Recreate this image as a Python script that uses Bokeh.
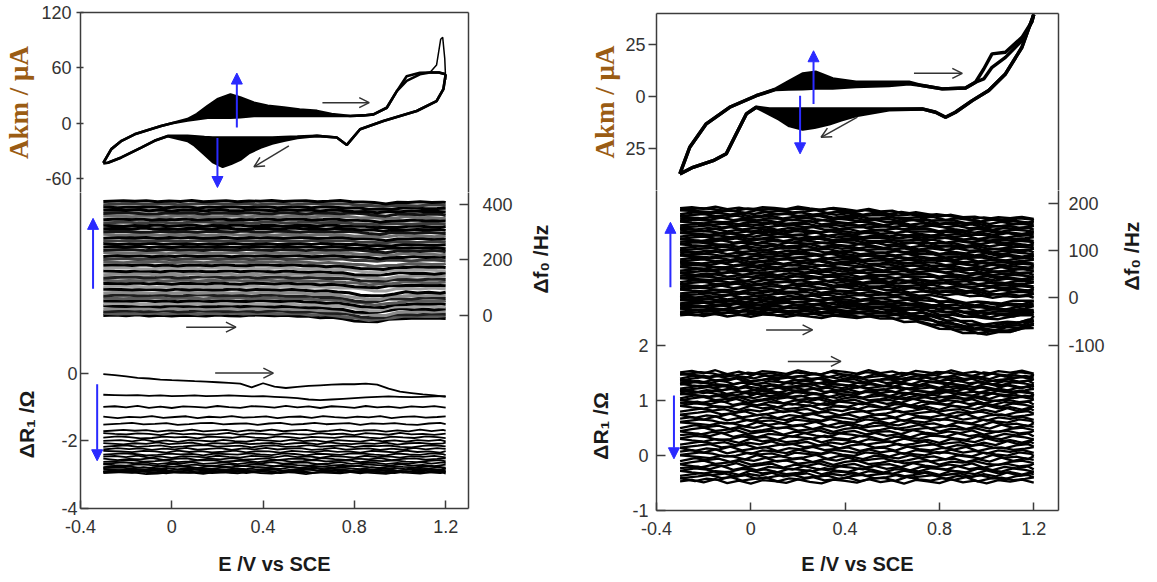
import numpy as np
from bokeh.plotting import figure
from bokeh.layouts import row, column
from bokeh.models import (Range1d, LinearAxis, FixedTicker, BasicTickFormatter,
                          Arrow, NormalHead, OpenHead)
from bokeh.embed import file_html
from bokeh.resources import INLINE

# ---------------- data ----------------
E_ticks = [-0.4, 0.0, 0.4, 0.8, 1.2]
cvL_ticks = [-60, 0, 60, 120]
cvR_ticks = [-25, 0, 25]
f0L_ticks = [0, 200, 400]
f0R_ticks = [-100, 0, 100, 200]
rL_ticks = [-4, -2, 0]
rR_ticks = [-1, 0, 1, 2]

# Left CV (uA): forward sweep, first and last cycle
cvL_up_E = [-0.30, -0.265, -0.22, -0.163, -0.10, -0.047, 0.0, 0.069, 0.11, 0.157, 0.20, 0.257, 0.30, 0.36,
            0.42, 0.491, 0.56, 0.636, 0.70, 0.782, 0.84, 0.884, 0.942, 0.986, 1.029, 1.087, 1.131, 1.17, 1.20]
cvL_up_last = [-43, -28, -19, -12, -7, -3, 0, 4.5, 10, 18.7, 26, 31.3, 28, 22.3, 19, 17, 15, 13.4, 10, 7.8,
               8.5, 9.6, 16.8, 34.8, 51, 54.8, 55, 55, 53]
cvL_up_first = [-43, -28, -19, -12, -7, -3, 0, 3, 4.5, 6, 6, 6, 6.5, 7.8, 7.8, 7.8, 7.8, 7.8, 7.8, 7.8,
                8.5, 9.6, 16.8, 34.8, 46, 53, 55, 55, 53]
cvL_spike_E = [1.131, 1.16, 1.178, 1.187, 1.196, 1.20]
cvL_spike_I = [55, 63, 91, 93, 70, 47]
# Left CV: reverse sweep
cvL_dn_E = [1.20, 1.19, 1.16, 1.073, 0.927, 0.825, 0.767, 0.723, 0.636, 0.55, 0.491, 0.44, 0.389, 0.34,
            0.303, 0.26, 0.223, 0.18, 0.143, 0.10, 0.069, -0.018, -0.076, -0.134, -0.221, -0.28, -0.30]
cvL_dn_first = [53, 37, 24, 13.3, 2.5, -6.5, -23.5, -15.5, -13.7, -14.5, -15, -15.5, -15.5, -15.5, -15.5,
                -15.5, -15.5, -15.5, -15, -14, -13.7, -13.7, -19, -26.3, -37, -42.7, -43.3]
cvL_dn_last = [53, 37, 24, 13.3, 2.5, -6.5, -23.5, -15.5, -13.7, -16, -19, -22, -26.3, -32, -39, -44,
               -47.2, -42, -33.5, -24, -19.2, -14, -19, -26.3, -37, -42.7, -43.3]

# Right CV (uA)
cvR_up_E = [-0.301, -0.259, -0.189, -0.09, 0.023, 0.107, 0.16, 0.22, 0.277, 0.347, 0.446, 0.586, 0.671,
            0.727, 0.812, 0.911, 0.953, 0.988, 1.023, 1.08, 1.15, 1.192, 1.20]
cvR_up_last = [-37.5, -24.6, -13.3, -5.3, 0.3, 3.6, 7, 10.8, 11.6, 8.4, 6.8, 6.8, 6.8, 5.2, 3.6, 4, 6.8,
               8.4, 14, 18.8, 26.9, 36, 39.5]
cvR_up_first = [-37.5, -24.6, -13.3, -5.3, 0.3, 3.3, 3.5, 3.6, 4, 4, 4.7, 5.2, 6.0, 5.2, 3.6, 4, 6.8,
                13.2, 20.5, 21.3, 28.5, 36, 39.5]
cvR_dn_E = [1.20, 1.15, 1.08, 1.009, 0.939, 0.868, 0.826, 0.784, 0.727, 0.586, 0.446, 0.38, 0.333, 0.27,
            0.22, 0.164, 0.12, 0.079, 0.023, -0.019, -0.062, -0.104, -0.16, -0.245, -0.301]
cvR_dn_first = [39.5, 23.7, 10.8, 2.8, -2.1, -7.7, -10.1, -7.7, -6.1, -6.1, -6.1, -6.1, -6.1, -6.1, -6.1,
                -6.1, -6.1, -6.1, -5.3, -8.5, -18.2, -27.8, -31.1, -34.3, -37.5]
cvR_dn_last = [39.5, 23.7, 10.8, 2.8, -2.1, -7.7, -10.1, -7.7, -6.1, -6.5, -9.3, -11.5, -13.3, -15, -15.8,
               -14.2, -11, -8.5, -5.3, -8.5, -18.2, -27.8, -31.1, -34.3, -37.5]

# Potential grid of the stacked traces
E_grid = [-0.30, -0.25, -0.20, -0.15, -0.10, -0.05, 0.00, 0.05, 0.10, 0.15, 0.20, 0.25, 0.30, 0.35, 0.40,
          0.45, 0.50, 0.55, 0.60, 0.65, 0.70, 0.75, 0.80, 0.85, 0.90, 0.95, 1.00, 1.05, 1.10, 1.15, 1.20]
# wiggle patterns of the noisy traces (relative units)
wig_a = [0.0, 0.6, -0.4, 0.9, -0.7, 0.3, -0.9, 0.5, 0.1, -0.6, 0.8, -0.2, -0.8, 0.7, 0.2, -0.5, 0.9, -0.3,
         0.4, -0.9, 0.6, 0.0, -0.7, 0.8, -0.4, 0.3, -0.8, 0.5, -0.1, 0.7, -0.5]
wig_b = [0.4, -0.8, 0.2, -0.3, 0.9, -0.6, 0.1, 0.7, -0.9, 0.3, -0.2, 0.8, -0.5, 0.0, 0.6, -0.8, 0.2, 0.5,
         -0.7, 0.9, -0.1, -0.6, 0.4, -0.3, 0.8, -0.9, 0.2, 0.6, -0.4, 0.1, 0.7]
wig_c = [-0.6, 0.2, 0.8, -0.5, 0.0, 0.7, -0.8, -0.2, 0.6, 0.9, -0.4, 0.1, 0.5, -0.9, 0.3, 0.8, -0.6, -0.1,
         0.9, -0.3, 0.2, 0.7, -0.8, 0.4, 0.0, 0.6, -0.5, -0.9, 0.3, 0.8, -0.2]

# Left delta f0 (Hz): start value of each cycle and the bend of the traces
f0L_start = [0, 7, 15, 24, 33, 42, 52, 62, 72, 82, 93, 104, 115, 126, 137, 148, 159, 170, 181, 192, 203,
             214, 225, 236, 247, 258, 269, 280, 291, 302, 313, 324, 335, 346, 357, 368, 379, 390, 401, 412]
f0L_bend_hi = [0, 0, 0, 0, 0, 0, 0, 0, 0, 0, 0, 0, 0, 0, 0, 0, 0, 0, 0, 0, 0, -1, -3, -6, -8, -5, -3, -4,
               -4, -5, -5]
f0L_bend_mid = [0, 0, 0, 0, 0, 0, 0, 0, 0, 0, 0, 0, 0, 0, 0, 0, 0, -1, -2, -3, -4, -6, -10, -15, -14, -9,
                -6, -7, -7, -8, -7]
f0L_bend_lo = [0, 0, 0, 0, 0, 0, 0, 0, 0, 0, 0, 0, 0, 0, 0, 0, -1, -2, -4, -6, -8, -12, -18, -24, -22, -14,
               -10, -11, -10, -11, -10]
# Right delta f0 (Hz)
f0R_start = [-37, -34, -31, -28, -25, -22, -19, -16, -13, -10, -7, -4, -1, 3, 7, 11, 15, 19, 23, 27, 31,
             35, 39, 43, 47, 51, 55, 59, 63, 67, 71, 75, 79, 83, 87, 91, 95, 99, 103, 107, 111, 115, 119,
             123, 127, 131, 135, 139, 143, 147, 151, 155, 159, 163, 167, 171, 175, 179, 183, 187, 190]
f0R_bend_hi = [0, 0, 0, 0, 0, 0, 0, 0, 0, 0, 0, 0, -1, -2, -3, -4, -5, -6, -7, -9, -11, -13, -15, -17,
               -18, -19, -20, -21, -21, -21, -21]
f0R_bend_mid = [0, 0, 0, 0, 0, 0, 0, 0, 0, 0, -1, -1, -2, -3, -3, -4, -5, -6, -8, -10, -13, -16, -20, -24,
                -27, -29, -29, -29, -28, -26, -23]
f0R_bend_lo = [0, 0, 0, 0, 0, 0, 0, 0, 0, -1, -2, -2, -3, -3, -4, -4, -5, -6, -8, -11, -15, -20, -26, -32,
               -36, -38, -38, -37, -35, -30, -25]

# Left delta R1 (Ohm)
rL_first = [-0.03, -0.06, -0.10, -0.14, -0.16, -0.19, -0.21, -0.22, -0.24, -0.25, -0.27, -0.29, -0.31,
            -0.42, -0.30, -0.40, -0.44, -0.41, -0.38, -0.36, -0.34, -0.33, -0.33, -0.31, -0.34, -0.46,
            -0.55, -0.59, -0.63, -0.66, -0.70]
rL_second = [-0.64, -0.65, -0.66, -0.65, -0.67, -0.66, -0.68, -0.67, -0.66, -0.68, -0.67, -0.66, -0.67,
             -0.69, -0.68, -0.70, -0.72, -0.74, -0.78, -0.80, -0.78, -0.76, -0.74, -0.72, -0.70, -0.69,
             -0.70, -0.71, -0.70, -0.69, -0.68]
rL_levels = [-1.0, -1.3, -1.5, -1.7, -1.8, -1.9, -2.0, -2.08, -2.16, -2.24, -2.32, -2.40, -2.47, -2.54,
             -2.60, -2.66, -2.72, -2.77, -2.81, -2.85, -2.88, -2.91, -2.93, -2.95]
# Right delta R1 (Ohm)
rR_levels = [-0.47, -0.43, -0.39, -0.35, -0.31, -0.27, -0.23, -0.18, -0.13, -0.08, -0.03, 0.02, 0.07,
             0.12, 0.17, 0.22, 0.27, 0.32, 0.37, 0.42, 0.47, 0.52, 0.57, 0.62, 0.67, 0.72, 0.77, 0.82,
             0.87, 0.91, 0.95, 0.99, 1.03, 1.06, 1.09, 1.12, 1.15, 1.18, 1.21, 1.24, 1.27, 1.30, 1.33,
             1.36, 1.39, 1.42, 1.45, 1.48, 1.51]

# annotation arrows: (x_start, y_start, x_end, y_end)
arrL_cv_blue = [(0.285, -4.7, 0.285, 54.4), (0.20, -16, 0.20, -69.6)]
arrL_cv_black = [(0.66, 22.3, 0.865, 22.3), (0.513, -24.5, 0.36, -47.2)]
arrL_f0_blue = [(-0.345, 96, -0.345, 350)]
arrL_f0_black = [(0.063, -42, 0.281, -42)]
arrL_r_blue = [(-0.327, -0.33, -0.327, -2.59)]
arrL_r_black = [(0.19, 0.0, 0.445, 0.0)]
arrR_cv_blue = [(0.266, -3.7, 0.266, 22), (0.209, 0.3, 0.209, -27.8)]
arrR_cv_black = [(0.692, 11.1, 0.897, 11.1), (0.452, -10.1, 0.298, -19.8)]
arrR_f0_blue = [(-0.341, 22.5, -0.341, 160)]
arrR_f0_black = [(0.065, -68, 0.262, -68)]
arrR_r_blue = [(-0.326, 1.09, -0.326, -0.06)]
arrR_r_black = [(0.157, 1.71, 0.382, 1.71)]

# axis titles and the value at which each rotated title is anchored
title_cv = "Akm / μA"
title_f0 = "Δf₀ /Hz"
title_r = "ΔR₁ /Ω"
title_E = "E /V vs SCE"
f0L_title_at, rL_title_at = 79, -0.52
f0R_title_at, rR_title_at = 15.5, 1.15

# ---------------- styling ----------------
FRAME = "#3c3c3c"
TFONT = "Liberation Sans"
TSIZE = "18px"
TCOL = "#333333"
TITLE_COL = "#1a1a1a"
BLUE = "#2a2aff"
AKM_COL = "#9a5c14"

E = np.array(E_grid)
WIG = [np.array(wig_a), np.array(wig_b), np.array(wig_c)]
SHIFT = [0.0, 0.013, 0.026, 0.038]


def trace_x(k):
    xs = np.minimum(E + SHIFT[k % 4], E[-1])
    xs[0] = E[0]
    return xs


def wig(k):
    w = WIG[k % 3]
    return w[::-1] if (k // 3) % 2 else w


def hyphen_labels(ticks, fmt="{:g}"):
    return {t: fmt.format(t) for t in ticks if t < 0}


def make_fig(w, h, xr, yr, bl, br, bt, bb):
    f = figure(width=w, height=h, x_range=Range1d(*xr), y_range=Range1d(*yr),
               x_axis_type=None, y_axis_type=None, title=None,
               toolbar_location=None, output_backend="svg",
               min_border_left=bl, min_border_right=br, min_border_top=bt, min_border_bottom=bb)
    f.outline_line_color = None
    f.background_fill_color = "white"
    f.border_fill_color = "white"
    return f


def add_axis(f, side, ticks, tin=0, tout=0, standoff=6, prec=None, overrides=None,
             y_range_name=None, label=None, label_standoff=5,
             label_font=TFONT, label_size="21px", label_color=TITLE_COL):
    kw = {}
    if y_range_name:
        kw["y_range_name"] = y_range_name
    ax = LinearAxis(ticker=FixedTicker(ticks=ticks, minor_ticks=[]), **kw)
    if prec is not None:
        ax.formatter = BasicTickFormatter(precision=prec)
    ov = hyphen_labels(ticks, "{:.%df}" % prec if prec is not None else "{:g}")
    if overrides:
        ov.update(overrides)
    if ov:
        ax.major_label_overrides = ov
    ax.axis_line_color = FRAME
    ax.axis_line_width = 1.5
    ax.major_tick_line_color = FRAME
    ax.major_tick_line_width = 1.5
    ax.major_tick_in = tin
    ax.major_tick_out = tout
    ax.minor_tick_line_color = None
    ax.major_label_text_font = TFONT
    ax.major_label_text_font_size = TSIZE if ticks else "0px"
    ax.major_label_text_color = TCOL
    ax.major_label_standoff = standoff
    if label:
        ax.axis_label = label
        ax.axis_label_standoff = label_standoff
        ax.axis_label_text_font = label_font
        ax.axis_label_text_font_size = label_size
        ax.axis_label_text_font_style = "bold"
        ax.axis_label_text_color = label_color
    f.add_layout(ax, side)
    return ax


def title_axis(f, side, at, text, standoff, y_range_name=None):
    """An outer axis whose only (rotated) tick label is the axis title."""
    kw = {"y_range_name": y_range_name} if y_range_name else {}
    ax = LinearAxis(ticker=FixedTicker(ticks=[at], minor_ticks=[]), **kw)
    ax.major_label_overrides = {at: text}
    ax.major_label_orientation = np.pi / 2
    ax.axis_line_color = None
    ax.major_tick_line_color = None
    ax.minor_tick_line_color = None
    ax.major_tick_in = 0
    ax.major_tick_out = 0
    ax.major_label_standoff = standoff
    ax.major_label_text_font = TFONT
    ax.major_label_text_font_size = "21px"
    ax.major_label_text_font_style = "bold"
    ax.major_label_text_color = TITLE_COL
    f.add_layout(ax, side)
    return ax


def arrows(f, lst, blue, y_range_name="default"):
    for (x0, y0, x1, y1) in lst:
        if blue:
            head = NormalHead(size=11, fill_color=BLUE, line_color=BLUE)
            f.add_layout(Arrow(end=head, x_start=x0, y_start=y0, x_end=x1, y_end=y1,
                               line_color=BLUE, line_width=2, y_range_name=y_range_name))
        else:
            head = OpenHead(size=10, line_color="#333333", line_width=1.5)
            f.add_layout(Arrow(end=head, x_start=x0, y_start=y0, x_end=x1, y_end=y1,
                               line_color="#333333", line_width=1.5, y_range_name=y_range_name))


def cv_panel(f, upE, up1, upN, dnE, dn1, dnN, fill_up, fill_dn, lw):
    a, b = fill_up
    f.varea(x=upE[a:b], y1=up1[a:b], y2=upN[a:b], fill_color="black")
    c, d = fill_dn
    f.varea(x=dnE[c:d], y1=dn1[c:d], y2=dnN[c:d], fill_color="black")
    for ys in (up1, upN):
        f.line(upE, ys, line_color="black", line_width=lw)
    for ys in (dn1, dnN):
        f.line(dnE, ys, line_color="black", line_width=lw)


XR = (-0.4, 1.3)
XR_R = (-0.4, 1.305)

# ================= LEFT PANEL =================
L_W, L_BL, L_BR = 572, 78, 104
fL1 = make_fig(L_W, 192, XR, (-75, 120), L_BL, L_BR, 12, 0)
add_axis(fL1, "left", cvL_ticks, tin=3, tout=4, standoff=5, label=title_cv, label_standoff=4,
         label_font="Liberation Serif", label_size="27px", label_color=AKM_COL)
add_axis(fL1, "right", [])
add_axis(fL1, "above", [])
cv_panel(fL1, cvL_up_E, cvL_up_first, cvL_up_last, cvL_dn_E, cvL_dn_first, cvL_dn_last,
         (5, 23), (0, len(cvL_dn_E)), 2.6)
fL1.line(cvL_spike_E, cvL_spike_I, line_color="black", line_width=1.5)
arrows(fL1, arrL_cv_blue, True)
arrows(fL1, arrL_cv_black, False)

# lower left: delta R1 on the main range, delta f0 on an extra range
fL2 = make_fig(L_W, 390, XR, (-4, 5.335), L_BL, L_BR, 0, 74)
fL2.extra_y_ranges = {"f0": Range1d(-695.5, 443.2)}
add_axis(fL2, "left", rL_ticks, tin=8, standoff=3)
title_axis(fL2, "left", rL_title_at, title_r, 32)
add_axis(fL2, "right", f0L_ticks, tin=9, standoff=14, y_range_name="f0")
title_axis(fL2, "right", f0L_title_at, title_f0, 25, "f0")
add_axis(fL2, "below", E_ticks, tin=8, standoff=11, prec=1, label=title_E, label_standoff=17,
         label_size="20px")

xs, ys, cols = [], [], []
pal_hi = ["#000000", "#000000", "#3c3c3c", "#000000", "#6e6e6e", "#141414"]
pal_lo = ["#000000", "#5a5a5a", "#1e1e1e", "#8c8c8c", "#000000", "#a0a0a0"]
for k, s in enumerate(f0L_start):
    bend = np.array(f0L_bend_lo if s < 100 else (f0L_bend_mid if s < 200 else f0L_bend_hi))
    xs.append(trace_x(k))
    ys.append(s + bend + 2.5 * wig(k))
    pal = pal_hi if s >= 200 else pal_lo
    cols.append(pal[k % len(pal)])
fL2.multi_line(xs=xs, ys=ys, line_color=cols, line_width=3.0, y_range_name="f0")
arrows(fL2, arrL_f0_blue, True, "f0")
arrows(fL2, arrL_f0_black, False, "f0")

xs = [E, E]
ys = [np.array(rL_first), np.array(rL_second)]
for k, lev in enumerate(rL_levels):
    xs.append(trace_x(k))
    ys.append(lev + 0.035 * wig(k))
fL2.multi_line(xs=xs, ys=ys, line_color="black", line_width=1.8)
arrows(fL2, arrL_r_blue, True)
arrows(fL2, arrL_r_black, False)

# ================= RIGHT PANEL =================
R_W, R_BL, R_BR = 585, 84, 97
fR1 = make_fig(R_W, 190, XR_R, (-45.5, 40), R_BL, R_BR, 13, 0)
add_axis(fR1, "left", cvR_ticks, tout=8, standoff=3, overrides={-25: "25"}, label=title_cv,
         label_standoff=2, label_font="Liberation Serif", label_size="27px", label_color=AKM_COL)
add_axis(fR1, "right", [])
add_axis(fR1, "above", [])
cv_panel(fR1, cvR_up_E, cvR_up_first, cvR_up_last, cvR_dn_E, cvR_dn_first, cvR_dn_last,
         (4, 17), (8, 20), 3.4)
arrows(fR1, arrR_cv_blue, True)
arrows(fR1, arrR_cv_black, False)

fR2 = make_fig(R_W, 392, XR_R, (-1, 4.818), R_BL, R_BR, 0, 72)
fR2.extra_y_ranges = {"f0": Range1d(-450.6, 227.4)}
add_axis(fR2, "left", rR_ticks, tin=9, standoff=8)
title_axis(fR2, "left", rR_title_at, title_r, 29)
add_axis(fR2, "right", f0R_ticks, tin=10, standoff=10, y_range_name="f0")
title_axis(fR2, "right", f0R_title_at, title_f0, 24, "f0")
add_axis(fR2, "below", E_ticks, tin=8, standoff=11, prec=1, label=title_E, label_standoff=15,
         label_size="20px")

xs, ys = [], []
for k, s in enumerate(f0R_start):
    bend = np.array(f0R_bend_lo if s < -15 else (f0R_bend_mid if s < 20 else f0R_bend_hi))
    xs.append(trace_x(k))
    ys.append(s + bend + 3.5 * wig(k))
fR2.multi_line(xs=xs, ys=ys, line_color="black", line_width=2.5, y_range_name="f0")
arrows(fR2, arrR_f0_blue, True, "f0")
arrows(fR2, arrR_f0_black, False, "f0")

xs, ys = [], []
for k, lev in enumerate(rR_levels):
    xs.append(trace_x(k))
    ys.append(lev + 0.045 * wig(k))
fR2.multi_line(xs=xs, ys=ys, line_color="black", line_width=2.3)
arrows(fR2, arrR_r_blue, True)
arrows(fR2, arrR_r_black, False)

layout = row(column(fL1, fL2), column(fR1, fR2))
open("out.html", "w").write(file_html(layout, INLINE))
